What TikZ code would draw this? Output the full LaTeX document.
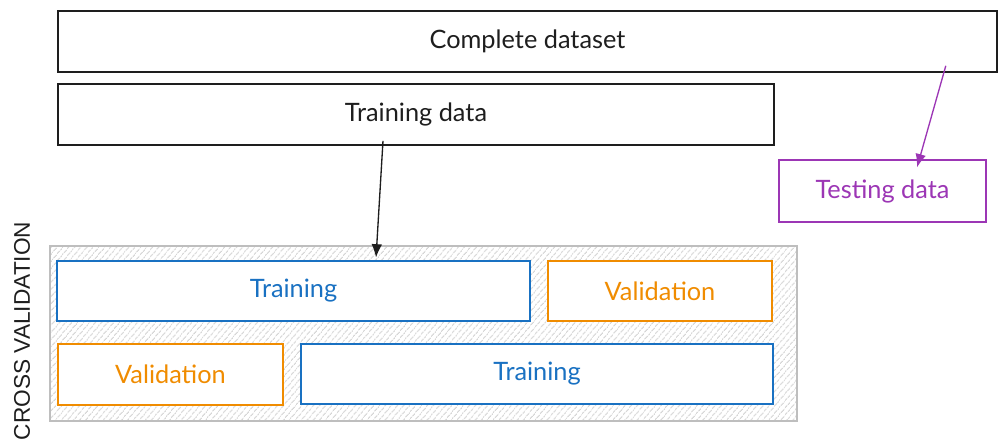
\documentclass[tikz,border=0pt]{standalone}
\usepackage{tikz}
\usepackage{fontspec}
\setmainfont{Lato}
\setsansfont{Liberation Sans}
\usetikzlibrary{patterns.meta}
\usetikzlibrary{arrows.meta}

\definecolor{inkblack}{RGB}{30,30,30}
\definecolor{inkblue}{RGB}{25,113,194}
\definecolor{inkorange}{RGB}{240,140,0}
\definecolor{inkviolet}{RGB}{156,54,181}
\definecolor{hatchgray}{RGB}{190,190,190}

\tikzset{
  databox/.style={draw=inkblack, line width=1.2pt, fill=white, text=inkblack, inner sep=0pt, font=\fontsize{19}{22}\selectfont},
  trainbox/.style={databox, draw=inkblue, text=inkblue, line width=1pt},
  valbox/.style={databox, draw=inkorange, text=inkorange, line width=1pt},
  testbox/.style={databox, draw=inkviolet, text=inkviolet, line width=1pt},
  foldarea/.style={draw=hatchgray, line width=1pt, pattern={Lines[angle=50,distance=4pt,line width=0.7pt]}, pattern color=hatchgray},
  linkarrow/.style={line width=1pt, -{Latex[length=10pt,width=8pt]}}
}

\begin{document}
\begin{tikzpicture}[x=0.75pt,y=0.75pt,yscale=-1,xscale=1]
\useasboundingbox (0,0) rectangle (1000,442);

%Shape: Rectangle [complete dataset]
\node[databox, minimum width=704.25pt, minimum height=45.75pt] (complete) at (527.5,41.5) {Complete dataset};
%Shape: Rectangle [training data]
\node[databox, minimum width=537pt, minimum height=45.75pt] (trainall) at (416,114.5) {Training data};
%Shape: Rectangle [testing data]
\node[testbox, minimum width=155.25pt, minimum height=46.5pt] (testing) at (882.5,191) {Testing data};

%Shape: Hatched Rectangle [folds]
\node[foldarea, minimum width=560.25pt, minimum height=131.25pt] (folds) at (423.5,333.5) {};

%Shape: Rectangle [fold 1]
\node[trainbox, minimum width=354.75pt, minimum height=45pt] (trainA) at (293.5,291) {Training};
\node[valbox, minimum width=168pt, minimum height=45pt] (valA) at (660,291) {Validation};
%Shape: Rectangle [fold 2]
\node[valbox, minimum width=168.75pt, minimum height=45.75pt] (valB) at (170.5,374.5) {Validation};
\node[trainbox, minimum width=354pt, minimum height=45pt] (trainB) at (537,374) {Training};

%Straight Lines [arrows]
\draw[linkarrow, inkblack] ([xshift=-24.75pt,yshift=-3.75pt]trainall.south) -- ([xshift=-35.6pt,yshift=9pt]folds.north);
\draw[linkarrow, inkviolet] ([xshift=-39pt,yshift=-5.25pt]complete.south east) -- ([xshift=25.9pt,yshift=6pt]testing.north);

% Text Node
\node[rotate=90, text=inkblack, font=\sffamily\fontsize{17}{20}\selectfont] (cvlabel) at (22,331) {CROSS VALIDATION};

\end{tikzpicture}
\end{document}
